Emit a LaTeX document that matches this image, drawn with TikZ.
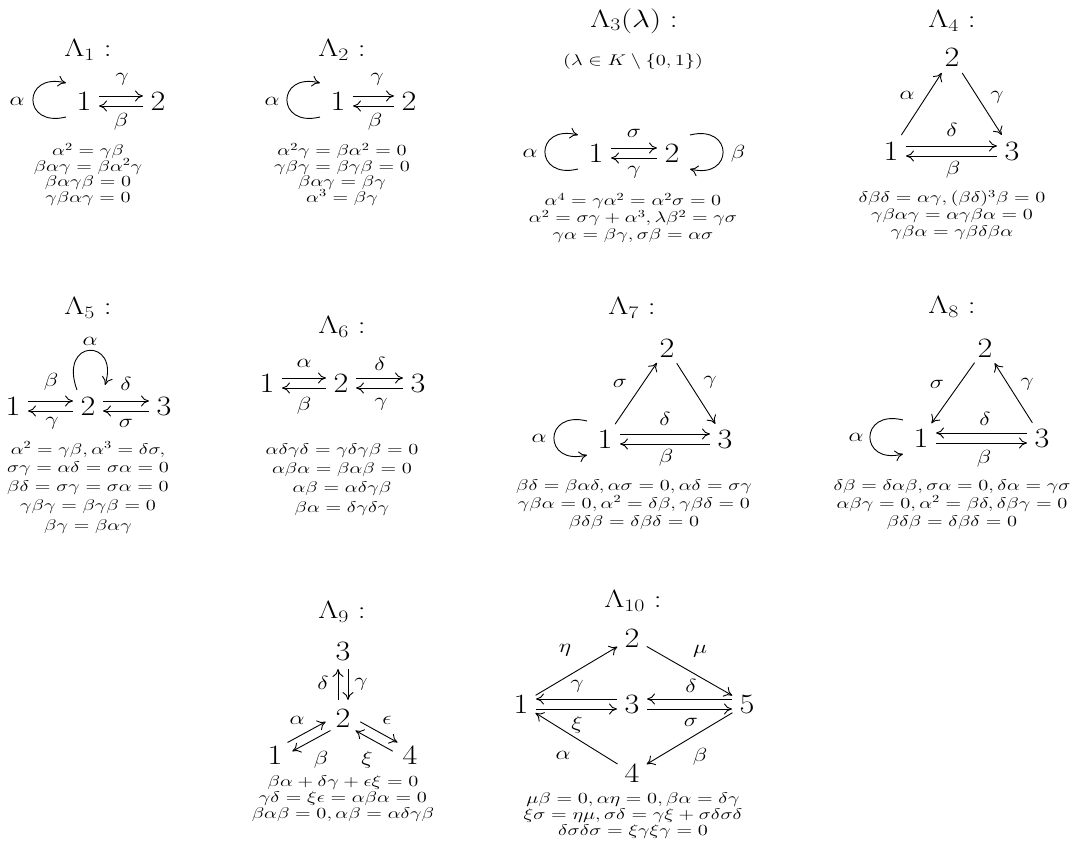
\RequirePackage{fix-cm}
\documentclass[tikz,border=0pt]{standalone}
\usetikzlibrary{arrows.meta,calc}
\tikzset{
  vtx/.style={font=\fontsize{28}{30}\selectfont, inner sep=0pt, xscale=1.15},
  ttl/.style={font=\fontsize{25}{27}\selectfont, inner sep=0pt, xscale=1.25},
  lbl/.style={font=\fontsize{19}{20}\selectfont, inner sep=0pt, xscale=1.25},
  rel/.style={font=\fontsize{15.5}{17}\selectfont, inner sep=0pt, anchor=base, xscale=1.32},
  arr/.style={line width=0.9pt, -{To[length=8pt,width=11pt]}},
  lft/.style={to path={($(\tikztostart)!5pt!90:(\tikztotarget)$) -- ($(\tikztotarget)!5pt!-90:(\tikztostart)$)}},
  rgt/.style={to path={($(\tikztostart)!5pt!-90:(\tikztotarget)$) -- ($(\tikztotarget)!5pt!90:(\tikztostart)$)}},
  sh/.style={shorten <=#1, shorten >=#1},
}
% a centred block of relations, one node per line
\newcommand\relblock[5]{%
  \foreach \relline [count=\k] in {#5} {%
    \node[rel] (#1-\k) at (#2,{#3+(\k-1)*#4}) {$\relline$};}}
\begin{document}
\begin{tikzpicture}[x=1pt,y=-1pt]
\fill[white] (0,0) rectangle (1072,850);
\useasboundingbox (0,0) rectangle (1072,850);

% ---------- Lambda_1
\node[ttl] (L1t) at (88,50) {$\Lambda_1:$};
\node[vtx] (L1n1) at (84,101) {$1$};
\node[vtx] (L1n2) at (158,101) {$2$};
\node[lbl] (L1a) at (17,101) {$\alpha$};
\node[lbl] (L1g) at (122,79) {$\gamma$};
\node[lbl] (L1b) at (121,122) {$\beta$};
\draw[arr] ($(L1n1)+(-18,16)$) .. controls ($(L1n1)+(-62,27)$) and ($(L1n1)+(-62,-29)$) .. ($(L1n1)+(-18,-18)$);
\draw[arr, sh=15pt] (L1n1) to[lft] (L1n2);
\draw[arr, sh=15pt] (L1n2) to[lft] (L1n1);
\relblock{L1r}{88}{156}{15.5}{{\alpha^2=\gamma\beta},{\beta\alpha\gamma=\beta\alpha^2\gamma},{\beta\alpha\gamma\beta=0},{\gamma\beta\alpha\gamma=0}}

% ---------- Lambda_2
\node[ttl] (L2t) at (342,50) {$\Lambda_2:$};
\node[vtx] (L2n1) at (338,101) {$1$};
\node[vtx] (L2n2) at (409,101) {$2$};
\node[lbl] (L2a) at (272,101) {$\alpha$};
\node[lbl] (L2g) at (377,79) {$\gamma$};
\node[lbl] (L2b) at (375,122) {$\beta$};
\draw[arr] ($(L2n1)+(-18,16)$) .. controls ($(L2n1)+(-62,27)$) and ($(L2n1)+(-62,-29)$) .. ($(L2n1)+(-18,-18)$);
\draw[arr, sh=15pt] (L2n1) to[lft] (L2n2);
\draw[arr, sh=15pt] (L2n2) to[lft] (L2n1);
\relblock{L2r}{342}{156}{15.5}{{\alpha^2\gamma=\beta\alpha^2=0},{\gamma\beta\gamma=\beta\gamma\beta=0},{\beta\alpha\gamma=\beta\gamma},{\alpha^3=\beta\gamma}}

% ---------- Lambda_3(lambda)
\node[ttl] (L3t) at (634,21) {$\Lambda_3(\lambda):$};
\node[rel, anchor=center] (L3s) at (633,62) {$(\lambda\in K\setminus\{0,1\})$};
\node[vtx] (L3n1) at (596,153) {$1$};
\node[vtx] (L3n2) at (672,153) {$2$};
\node[lbl] (L3a) at (530,153) {$\alpha$};
\node[lbl] (L3b) at (738,154) {$\beta$};
\node[lbl] (L3s1) at (634,133) {$\sigma$};
\node[lbl] (L3g) at (634,172) {$\gamma$};
\draw[arr] ($(L3n1)+(-18,16)$) .. controls ($(L3n1)+(-62,27)$) and ($(L3n1)+(-62,-29)$) .. ($(L3n1)+(-18,-18)$);
\draw[arr] ($(L3n2)+(18,-18)$) .. controls ($(L3n2)+(62,-29)$) and ($(L3n2)+(62,27)$) .. ($(L3n2)+(18,16)$);
\draw[arr, sh=15pt] (L3n1) to[lft] (L3n2);
\draw[arr, sh=15pt] (L3n2) to[lft] (L3n1);
\relblock{L3r}{633}{206}{17}{{\alpha^4=\gamma\alpha^2=\alpha^2\sigma=0},{\alpha^2=\sigma\gamma+\alpha^3,\lambda\beta^2=\gamma\sigma},{\gamma\alpha=\beta\gamma,\sigma\beta=\alpha\sigma}}

% ---------- Lambda_4
\node[ttl] (L4t) at (952,21) {$\Lambda_4:$};
\node[vtx] (L4n2) at (952,57) {$2$};
\node[vtx] (L4n1) at (891,151) {$1$};
\node[vtx] (L4n3) at (1012,151) {$3$};
\node[lbl] (L4a) at (907,95) {$\alpha$};
\node[lbl] (L4g) at (997,97) {$\gamma$};
\node[lbl] (L4d) at (952,130) {$\delta$};
\node[lbl] (L4b) at (953,170) {$\beta$};
\draw[arr, sh=19pt] (L4n1.center) -- (L4n2.center);
\draw[arr, sh=19pt] (L4n2.center) -- (L4n3.center);
\draw[arr, sh=15pt] (L4n1) to[lft] (L4n3);
\draw[arr, sh=15pt] (L4n3) to[lft] (L4n1);
\relblock{L4r}{952}{203}{17}{{\delta\beta\delta=\alpha\gamma,(\beta\delta)^3\beta=0},{\gamma\beta\alpha\gamma=\alpha\gamma\beta\alpha=0},{\gamma\beta\alpha=\gamma\beta\delta\beta\alpha}}

% ---------- Lambda_5
\node[ttl] (L5t) at (88,308) {$\Lambda_5:$};
\node[vtx] (L5n1) at (13,406) {$1$};
\node[vtx] (L5n2) at (88,406) {$2$};
\node[vtx] (L5n3) at (164,406) {$3$};
\node[lbl] (L5a) at (90,341) {$\alpha$};
\node[lbl] (L5b) at (51,382) {$\beta$};
\node[lbl] (L5g) at (52,423) {$\gamma$};
\node[lbl] (L5d) at (126,384) {$\delta$};
\node[lbl] (L5s) at (126,423) {$\sigma$};
\draw[arr] ($(L5n2)+(-11,-16)$) .. controls ($(L5n2)+(-30,-68)$) and ($(L5n2)+(32,-68)$) .. ($(L5n2)+(17,-21)$);
\draw[arr, sh=15pt] (L5n1) to[lft] (L5n2);
\draw[arr, sh=15pt] (L5n2) to[lft] (L5n1);
\draw[arr, sh=15pt] (L5n2) to[lft] (L5n3);
\draw[arr, sh=15pt] (L5n3) to[lft] (L5n2);
\relblock{L5r}{88}{454}{19}{{\alpha^2=\gamma\beta,\alpha^3=\delta\sigma,},{\sigma\gamma=\alpha\delta=\sigma\alpha=0},{\beta\delta=\sigma\gamma=\sigma\alpha=0},{\gamma\beta\gamma=\beta\gamma\beta=0},{\beta\gamma=\beta\alpha\gamma}}

% ---------- Lambda_6
\node[ttl] (L6t) at (342,327) {$\Lambda_6:$};
\node[vtx] (L6n1) at (267,383) {$1$};
\node[vtx] (L6n2) at (341,383) {$2$};
\node[vtx] (L6n3) at (418,383) {$3$};
\node[lbl] (L6a) at (304,363) {$\alpha$};
\node[lbl] (L6b) at (304,406) {$\beta$};
\node[lbl] (L6d) at (380,364) {$\delta$};
\node[lbl] (L6g) at (381,404) {$\gamma$};
\draw[arr, sh=15pt] (L6n1) to[lft] (L6n2);
\draw[arr, sh=15pt] (L6n2) to[lft] (L6n1);
\draw[arr, sh=15pt] (L6n2) to[lft] (L6n3);
\draw[arr, sh=15pt] (L6n3) to[lft] (L6n2);
\relblock{L6r}{342}{455}{19}{{\alpha\delta\gamma\delta=\gamma\delta\gamma\beta=0},{\alpha\beta\alpha=\beta\alpha\beta=0},{\alpha\beta=\alpha\delta\gamma\beta},{\beta\alpha=\delta\gamma\delta\gamma}}

% ---------- Lambda_7
\node[ttl] (L7t) at (632,308) {$\Lambda_7:$};
\node[vtx] (L7n2) at (667,348) {$2$};
\node[vtx] (L7n1) at (605,439) {$1$};
\node[vtx] (L7n3) at (725,439) {$3$};
\node[lbl] (L7a) at (539,438) {$\alpha$};
\node[lbl] (L7s) at (620,383) {$\sigma$};
\node[lbl] (L7g) at (710,382) {$\gamma$};
\node[lbl] (L7d) at (665,419) {$\delta$};
\node[lbl] (L7b) at (666,458) {$\beta$};
\draw[arr] ($(L7n1)+(-18,-18)$) .. controls ($(L7n1)+(-62,-29)$) and ($(L7n1)+(-62,27)$) .. ($(L7n1)+(-18,16)$);
\draw[arr, sh=18pt] (L7n1.center) -- (L7n2.center);
\draw[arr, sh=18pt] (L7n2.center) -- (L7n3.center);
\draw[arr, sh=15pt] (L7n1) to[lft] (L7n3);
\draw[arr, sh=15pt] (L7n3) to[lft] (L7n1);
\relblock{L7r}{634}{490}{18}{{\beta\delta=\beta\alpha\delta,\alpha\sigma=0,\alpha\delta=\sigma\gamma},{\gamma\beta\alpha=0,\alpha^2=\delta\beta,\gamma\beta\delta=0},{\beta\delta\beta=\delta\beta\delta=0}}

% ---------- Lambda_8
\node[ttl] (L8t) at (952,307) {$\Lambda_8:$};
\node[vtx] (L8n2) at (985,348) {$2$};
\node[vtx] (L8n1) at (921,438) {$1$};
\node[vtx] (L8n3) at (1042,438) {$3$};
\node[lbl] (L8a) at (856,437) {$\alpha$};
\node[lbl] (L8s) at (937,384) {$\sigma$};
\node[lbl] (L8g) at (1027,384) {$\gamma$};
\node[lbl] (L8d) at (985,419) {$\delta$};
\node[lbl] (L8b) at (984,459) {$\beta$};
\draw[arr] ($(L8n1)+(-18,-18)$) .. controls ($(L8n1)+(-62,-29)$) and ($(L8n1)+(-62,27)$) .. ($(L8n1)+(-18,16)$);
\draw[arr, sh=18pt] (L8n2.center) -- (L8n1.center);
\draw[arr, sh=18pt] (L8n3.center) -- (L8n2.center);
\draw[arr, sh=15pt] (L8n3) to[rgt] (L8n1);
\draw[arr, sh=15pt] (L8n1) to[rgt] (L8n3);
\relblock{L8r}{952}{490}{18}{{\delta\beta=\delta\alpha\beta,\sigma\alpha=0,\delta\alpha=\gamma\sigma},{\alpha\beta\gamma=0,\alpha^2=\beta\delta,\delta\beta\gamma=0},{\beta\delta\beta=\delta\beta\delta=0}}

% ---------- Lambda_9
\node[ttl] (L9t) at (342,612) {$\Lambda_9:$};
\node[vtx] (L9n3) at (343,651) {$3$};
\node[vtx] (L9n2) at (343,718) {$2$};
\node[vtx] (L9n1) at (275,755) {$1$};
\node[vtx] (L9n4) at (410,755) {$4$};
\node[lbl] (L9d) at (323,683) {$\delta$};
\node[lbl] (L9g) at (361,684) {$\gamma$};
\node[lbl] (L9a) at (297,720) {$\alpha$};
\node[lbl] (L9b) at (321,760) {$\beta$};
\node[lbl] (L9e) at (387,720) {$\epsilon$};
\node[lbl] (L9x) at (367,760) {$\xi$};
\draw[arr, sh=18pt] (L9n2) to[lft] (L9n3);
\draw[arr, sh=18pt] (L9n3) to[lft] (L9n2);
\draw[arr, sh=17pt] (L9n1) to[lft] (L9n2);
\draw[arr, sh=17pt] (L9n2) to[lft] (L9n1);
\draw[arr, sh=17pt] (L9n2) to[lft] (L9n4);
\draw[arr, sh=17pt] (L9n4) to[lft] (L9n2);
\relblock{L9r}{343}{786}{16}{{\beta\alpha+\delta\gamma+\epsilon\xi=0},{\gamma\delta=\xi\epsilon=\alpha\beta\alpha=0},{\beta\alpha\beta=0,\alpha\beta=\alpha\delta\gamma\beta}}

% ---------- Lambda_10
\node[ttl] (L10t) at (633,601) {$\Lambda_{10}:$};
\node[vtx] (L10n2) at (632,638) {$2$};
\node[vtx] (L10n1) at (521,704) {$1$};
\node[vtx] (L10n3) at (632,704) {$3$};
\node[vtx] (L10n5) at (747,704) {$5$};
\node[vtx] (L10n4) at (632,773) {$4$};
\node[lbl] (L10h) at (565,650) {$\eta$};
\node[lbl] (L10m) at (700,651) {$\mu$};
\node[lbl] (L10g) at (577,686) {$\gamma$};
\node[lbl] (L10x) at (577,725) {$\xi$};
\node[lbl] (L10d) at (691,686) {$\delta$};
\node[lbl] (L10s) at (691,722) {$\sigma$};
\node[lbl] (L10a) at (563,755) {$\alpha$};
\node[lbl] (L10b) at (700,757) {$\beta$};
\draw[arr, sh=17pt] (L10n1.center) -- (L10n2.center);
\draw[arr, sh=17pt] (L10n2.center) -- (L10n5.center);
\draw[arr, sh=17pt] (L10n4.center) -- (L10n1.center);
\draw[arr, sh=17pt] (L10n5.center) -- (L10n4.center);
\draw[arr, sh=15pt] (L10n3) to[rgt] (L10n1);
\draw[arr, sh=15pt] (L10n1) to[rgt] (L10n3);
\draw[arr, sh=15pt] (L10n5) to[rgt] (L10n3);
\draw[arr, sh=15pt] (L10n3) to[rgt] (L10n5);
\relblock{L10r}{633}{803}{16}{{\mu\beta=0,\alpha\eta=0,\beta\alpha=\delta\gamma},{\xi\sigma=\eta\mu,\sigma\delta=\gamma\xi+\sigma\delta\sigma\delta},{\delta\sigma\delta\sigma=\xi\gamma\xi\gamma=0}}
\end{tikzpicture}
\end{document}
